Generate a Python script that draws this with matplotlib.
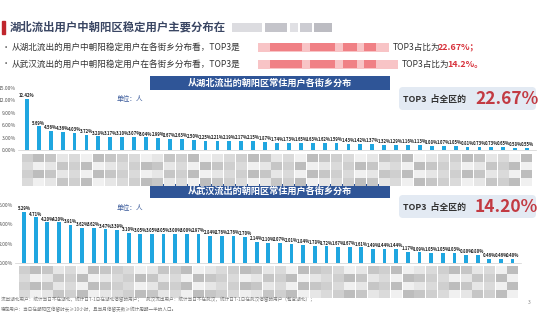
import numpy as np
import matplotlib.pyplot as plt
from matplotlib.patches import Rectangle, FancyBboxPatch

plt.rcParams['font.family'] = ['Noto Sans CJK SC', 'DejaVu Sans']

# 从湖北流出 (top chart), share per street, %
hubei_share = [12.42, 5.69, 4.56, 4.36, 4.03, 3.72, 3.28, 3.17, 3.10, 3.07,
               3.04, 2.99, 2.67, 2.63, 2.50, 2.25, 2.21, 2.19, 2.17, 2.15,
               1.87, 1.74, 1.73, 1.65, 1.63, 1.62, 1.59, 1.43, 1.42, 1.37,
               1.32, 1.29, 1.16, 1.13, 1.08, 1.07, 1.05, 0.81, 0.73, 0.73,
               0.65, 0.58, 0.55]
# 从武汉流出 (bottom chart)
wuhan_share = [5.29, 4.71, 4.20, 4.20, 3.91, 3.62, 3.62, 3.47, 3.39, 3.10,
               3.05, 3.05, 3.05, 3.00, 3.00, 2.97, 2.84, 2.76, 2.76, 2.70,
               2.14, 2.10, 2.07, 2.01, 1.84, 1.78, 1.72, 1.67, 1.67, 1.61,
               1.49, 1.44, 1.44, 1.17, 1.09, 1.05, 1.05, 1.03, 0.80, 0.80,
               0.46, 0.46, 0.40]
hubei_ticks = [0, 3, 6, 9, 12, 15]
wuhan_ticks = [0, 2, 4, 6]
hubei_top3 = "22.67%"
wuhan_top3 = "14.20%"

W, H = 540, 320
fig = plt.figure(figsize=(5.4, 3.2), dpi=100)
fig.patch.set_facecolor('white')
bg = fig.add_axes([0, 0, 1, 1])
bg.set_xlim(0, W)
bg.set_ylim(H, 0)
bg.axis('off')

BAR = '#1fa6e0'
DARK = '#3a4663'
RED = '#d8333c'

# title
bg.add_patch(Rectangle((2, 21), 3, 13, color='#c0262d'))
bg.text(10, 27.5, '湖北流出用户中朝阳区稳定用户主要分布在', fontsize=8.2,
        fontweight='bold', color=DARK, va='center')
for x0, w, c in [(232, 30, '#dcdce0'), (265, 22, '#c4c4ca'), (290, 8, '#e0e0e4'),
                 (300, 12, '#ccccd2'), (314, 18, '#bcbcc2')]:
    bg.add_patch(Rectangle((x0, 23), w, 9, color=c, lw=0))

# bullet lines
lines = [(47, '从湖北流出的用户中朝阳稳定用户在各街乡分布看，TOP3是', 'TOP3占比为', '22.67%', '；', 393),
         (64, '从武汉流出的用户中朝阳稳定用户在各街乡分布看，TOP3是', 'TOP3占比为', '14.2%', '。', 402)]
for y, t1, t2, pct, end, x2 in lines:
    bg.text(2, y, '·', fontsize=6, color='#555555', va='center')
    bg.text(12, y, t1, fontsize=6.2, color='#333333', va='center')
    bg.add_patch(Rectangle((258, y - 4.5), x2 - 262, 9, color='#f8c4c6', lw=0))
    for x0, w in [(270, 32), (310, 25), (343, 14), (364, 12)]:
        if x0 + w < x2 - 6:
            bg.add_patch(Rectangle((x0, y - 4), w, 8, color='#ee6a70', lw=0, alpha=0.75))
    bg.text(x2, y, t2, fontsize=6.2, color='#333333', va='center')
    bg.text(x2 + 45, y, pct + end, fontsize=6.4, color=RED, fontweight='bold', va='center')


def header(y, text):
    bg.add_patch(Rectangle((150, y), 240, 13.5, color='#2f5597', lw=0))
    bg.text(270, y + 6.8, text, fontsize=6.6, color='white', fontweight='bold',
            ha='center', va='center')


def top_box(y, pct):
    bg.add_patch(FancyBboxPatch((399, y), 137, 23, boxstyle='round,pad=0,rounding_size=4',
                                fc='#e3eaf3', ec='none'))
    bg.text(403, y + 12, 'TOP3  占全区的', fontsize=6.4, color='#333333',
            fontweight='bold', va='center')
    bg.text(475, y + 11.5, pct, fontsize=12.5, color='#c23a42', fontweight='bold',
            va='center')


header(76, '从湖北流出的朝阳区常住用户各街乡分布')
top_box(87, hubei_top3)
bg.text(117, 99.5, '单位：人', fontsize=4.8, color='#3b5b9b', va='center')

header(184, '从武汉流出的朝阳区常住用户各街乡分布')
top_box(195, wuhan_top3)
bg.text(117, 208, '单位：人', fontsize=4.8, color='#3b5b9b', va='center')

# blurred street names below the bars
shades = ['#cfcfcf', '#e6e6e6', '#bdbdbd', '#dadada', '#c6c6c6', '#f0f0f0']


def mosaic(x_first, step, n, y0, y1):
    for i in range(n):
        xc = x_first + i * step
        for k, yy in enumerate(np.arange(y0, y1, 8)):
            c = shades[(i * 2 + k * 3 + i // 3) % len(shades)]
            bg.add_patch(Rectangle((xc - 5.5, yy), 11, 8, color=c, lw=0))


mosaic(27, 11.9, len(hubei_share), 154, 186)
mosaic(24, 11.64, len(wuhan_share), 266, 294)


def chart(rect, vals, ticks):
    ax = fig.add_axes(rect)
    x = np.arange(len(vals))
    ax.bar(x, vals, width=0.32, color=BAR)
    for xi, v in zip(x, vals):
        ax.text(xi, v + ticks[-1] * 0.015, f'{v:.2f}%', fontsize=3.1, color='#222222',
                ha='center', va='bottom', fontweight='bold')
    ax.set_xlim(-0.75, len(vals) - 0.25)
    ax.set_ylim(0, ticks[-1])
    ax.set_yticks(ticks)
    ax.set_yticklabels([f'{t:.2f}%' for t in ticks], fontsize=3.6, color='#555555')
    ax.set_xticks([])
    ax.tick_params(axis='y', length=0, pad=1.5)
    for s in ['top', 'right', 'left']:
        ax.spines[s].set_visible(False)
    ax.spines['bottom'].set_color('#d0d0d0')
    ax.spines['bottom'].set_linewidth(0.5)
    ax.patch.set_alpha(0)
    return ax


chart([18 / W, 1 - 150 / H, 518 / W, 62 / H], hubei_share, hubei_ticks)
chart([15.3 / W, 1 - 263 / H, 506 / W, 58 / H], wuhan_share, wuhan_ticks)

# footnotes
bg.text(1, 300, '流出湖北用户：统计当日不在湖北，统计日T-1日在湖北停留的用户；    '
        '武汉流出用户：统计当日不在武汉，统计日T-1日在武汉停留的用户（包含湖北）；',
        fontsize=3.3, color='#777777', va='center')
bg.text(1, 309, '稳定用户：当日在朝阳区停留时长≥10小时，且当月停留天数≥统计周期一半的人口。',
        fontsize=3.3, color='#777777', va='center')
bg.text(528, 302, '3', fontsize=3.6, color='#888888', va='center')

fig.savefig('out.png', dpi=100, facecolor='white')
